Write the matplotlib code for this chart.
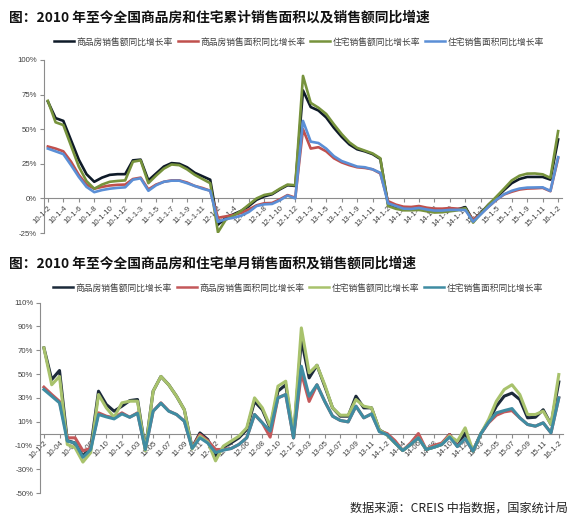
import matplotlib
matplotlib.use("Agg")
import matplotlib.pyplot as plt
from matplotlib.lines import Line2D

plt.rcParams['font.family'] = ['Liberation Sans', 'Noto Sans CJK SC', 'DejaVu Sans']

# ---------------- categories ----------------
years = ['10', '11', '12', '13', '14', '15']
top_cats = []
bot_cats = []
for y in years:
    top_cats += [f'{y}-1-{m}' for m in range(2, 13)]
    bot_cats += [f'{y}-1-2'] + [f'{y}-{m:02d}' for m in range(3, 13)]
top_cats.append('16-1-2')
bot_cats.append('16-1-2')

series_names = ['商品房销售额同比增长率', '商品房销售面积同比增长率',
                '住宅销售额同比增长率', '住宅销售面积同比增长率']

# ---------------- top chart: cumulative YoY (%) ----------------
top_sales = [70, 58, 56, 42, 28, 17.5, 12, 15, 17, 17.5, 17.5,
             27.5, 28, 13, 18, 23, 25.5, 25, 22.5, 18.5, 16, 13.5,
             -19, -14, -11.5, -9, -5.5, -1, 1.5, 3, 6.5, 9.5, 9,
             78, 66, 63.5, 58.5, 51, 44.5, 39, 35.5, 34, 32, 28.5,
             -4, -6.5, -7.8, -8, -7.4, -8.3, -9.3, -9.3, -8.6, -7.9, -6.3,
             -16, -10.5, -4.5, 0.5, 6, 11, 14, 15.5, 15.5, 15.5, 13.6,
             42.6]
top_area = [37.5, 36, 34, 26.5, 17, 10, 7, 8.3, 9.3, 9.8, 10,
            14, 15, 6.5, 10, 12, 13, 13, 11.5, 9, 7.5, 5.5,
            -14, -13, -12, -10.5, -8, -5, -3.5, -3.3, -0.7, 2.4, 0.5,
            50, 36, 37, 34, 29, 26, 24, 22.5, 22, 21, 18,
            -2, -4.5, -6, -6.2, -5.5, -6.7, -7.4, -7.4, -7, -7.4, -7.8,
            -15.5, -11, -6, -1.2, 2.8, 4.8, 6.4, 7.1, 7.3, 7.6, 5.2,
            29]
top_res_sales = [70.5, 55, 53, 38, 23, 12.5, 7, 10, 12, 12.6, 13,
                 26.5, 27.5, 11, 16.5, 21.5, 24.5, 24, 21, 17, 14, 11,
                 -24.5, -15.5, -12.5, -9, -4.5, 0, 2.5, 3.5, 7, 10, 9.5,
                 88.5, 69, 65.5, 61, 53.5, 46.5, 40.5, 36.5, 34.5, 32.5, 29,
                 -5.5, -7.5, -8.6, -8.6, -8.3, -9.3, -10.2, -10, -9.3, -8.6, -7,
                 -17.5, -11, -4.5, 1.2, 7, 13, 16.4, 17.9, 18, 17.4, 14.8,
                 48.6]
top_res_area = [36, 34, 32, 24, 15.5, 8.3, 4.5, 6, 7, 7.6, 8,
                13.5, 14.5, 5.5, 9.5, 12, 12.8, 12.8, 11, 9, 7, 5.5,
                -17, -15, -14, -12.5, -9.8, -5.5, -4.3, -4, -1.4, 2, 0,
                56, 41, 40, 36, 30.5, 27, 25, 23, 22.5, 21, 18.5,
                -3.5, -5.5, -7.4, -7.6, -6.9, -8, -8.8, -8.8, -8.3, -8.3, -8.4,
                -16.8, -11.5, -6, -1, 3, 5.5, 7.1, 7.8, 7.9, 8, 5.4,
                29.8]

# ---------------- bottom chart: single-month YoY (%) ----------------
bot_sales = [72, 45.4, 53, -5.9, -8, -19, -12, 35.6, 24.4, 18.8, 23,
             27.7, 28.6, -13.4, 35.6, 48, 41, 31.4, 20, -12, 0.5, -5,
             -19, -11.5, -7.8, -3.6, 3.4, 27, 20, 4.8, 35.6, 41, -3.6,
             79, 46.8, 57.4, 39.8, 21.6, 14.6, 14.6, 31.4, 21.6, 21.6, 3,
             -0.8, -7.8, -14.3, -9.2, -3.6, -13.4, -11.5, -9.2, -0.8, -10.6, 0.5,
             -14.8, -0.3, 10.4, 23, 31.4, 34, 28.6, 13.2, 13.7, 20, 7.6,
             43.4]
bot_area = [39, 32.8, 27, -3.6, -3.6, -14.5, -12.5, 17.4, 14.6, 13.2, 17.4,
            13.7, 17.4, -13, 18.8, 25.8, 19, 16, 10.4, -12, -0.8, -6,
            -13.4, -13.4, -12.6, -9.2, -3.6, 16, 9, -3, 30, 32.8, -3.6,
            51, 27, 41, 27, 14.6, 11, 9.8, 23, 13.2, 16.5, 2,
            0, -6, -14.3, -8, 0, -13.4, -10, -8, -0.8, -10.6, -4.2,
            -14.8, -0.3, 9, 15.4, 18.2, 19.3, 13.2, 7.6, 6.2, 9, 0.6,
            30]
bot_res_sales = [72, 41, 48, -9.2, -12, -24, -16, 32.8, 21.6, 13.7, 25.8,
                 27.2, 27.2, -14.5, 35.6, 48, 41, 31.4, 20, -13, -2.2, -7,
                 -23, -10.6, -6.4, -2.2, 4.8, 30, 21.6, 6.2, 39.8, 44, -2,
                 88.8, 51, 57.4, 41, 21.6, 15.4, 15.4, 28.6, 23, 21.6, 3,
                 -1.5, -8, -14.3, -9.2, -3.6, -13.4, -11.5, -9.2, -2, -6.4, 4.8,
                 -14.8, -0.3, 11.8, 27.2, 37, 41, 32.8, 16, 16, 18.8, 7.6,
                 49.6]
bot_res_area = [37, 31.4, 25.8, -6.4, -8, -20, -13.5, 16, 14, 12.3, 16.5,
                13.7, 17, -13.4, 18.8, 25.5, 18.8, 16, 10.4, -12.5, -3.6, -8,
                -16, -14, -12.6, -9.2, -3.6, 16, 9, 2, 30, 32.8, -3.6,
                56.6, 31.4, 41, 27, 14.6, 11, 9.8, 23, 13.2, 16.5, 1.5,
                -1, -7.8, -14.3, -9.2, -3.6, -13.4, -11.5, -9.2, -3, -11, -4.2,
                -14.8, -0.3, 9.5, 17.4, 19.3, 21, 13.2, 7.6, 6.2, 9, 0.6,
                30]

top_ticks = [-25, 0, 25, 50, 75, 100]
bot_ticks = [-50, -30, -10, 10, 30, 50, 70, 90, 110]

top_colors = ['#0e1a28', '#c0504d', '#77933c', '#5b8fd6']
bot_colors = ['#1c2a3a', '#c4585a', '#a8c26c', '#3f8ca2']

W, H = 579, 521
fig = plt.figure(figsize=(W / 100, H / 100), dpi=100)

axis_grey = '#8c8c8c'
label_col = '#404040'


def style_axis(ax, yticks, cats, ylo, yhi):
    n = len(cats)
    ax.set_xlim(-0.5, n - 0.5)
    ax.set_ylim(ylo, yhi)
    for s in ['top', 'right']:
        ax.spines[s].set_visible(False)
    ax.spines['bottom'].set_position(('data', 0))
    for s in ['left', 'bottom']:
        ax.spines[s].set_color(axis_grey)
        ax.spines[s].set_linewidth(0.8)
    ax.set_yticks(yticks)
    ax.set_yticklabels([f'{v}%' for v in yticks])
    idx = list(range(0, n, 2))
    ax.set_xticks(idx)
    ax.set_xticklabels([cats[i] for i in idx], rotation=45, ha='right',
                       va='top', rotation_mode='anchor')
    ax.tick_params(axis='both', colors=axis_grey, length=3, width=0.8,
                   labelcolor=label_col, labelsize=5.6)
    ax.tick_params(axis='x', pad=1.5)
    ax.tick_params(axis='y', pad=2)
    ax.patch.set_alpha(0)


# ---------- top ----------
ax1 = fig.add_axes([44 / W, (H - 233) / H, 518 / W, 173 / H])
x1 = list(range(len(top_cats)))
for vals, c in zip([top_sales, top_area, top_res_sales, top_res_area], top_colors):
    ax1.plot(x1, vals, color=c, lw=1.9, solid_joinstyle='round', zorder=3)
style_axis(ax1, top_ticks, top_cats, -25, 100)

# ---------- bottom ----------
ax2 = fig.add_axes([40 / W, 28 / H, 522.7 / W, 190.3 / H])
x2 = list(range(len(bot_cats)))
for vals, c in zip([bot_sales, bot_area, bot_res_sales, bot_res_area], bot_colors):
    ax2.plot(x2, vals, color=c, lw=2.2, solid_joinstyle='round', zorder=3)
style_axis(ax2, bot_ticks, bot_cats, -50, 110)

# ---------- titles ----------
cjk = ['Noto Sans CJK SC', 'DejaVu Sans']
fig.text(9 / W, 1 - 18 / H, '图：2010 年至今全国商品房和住宅累计销售面积以及销售额同比增速',
         family=cjk, fontsize=9.9, weight='bold', va='center', ha='left', color='#111111')
fig.text(9 / W, 1 - 264 / H, '图：2010 年至今全国商品房和住宅单月销售面积及销售额同比增速',
         family=cjk, fontsize=9.9, weight='bold', va='center', ha='left', color='#111111')


# ---------- legends ----------
def make_legend(colors, cx, cy, lw):
    handles = [Line2D([0], [0], color=c, lw=lw) for c in colors]
    leg = fig.legend(handles, series_names, loc='center', bbox_to_anchor=(cx / W, 1 - cy / H),
                     ncol=4, frameon=False, handlelength=2.3, handletextpad=0.3,
                     columnspacing=0.55, prop={'family': cjk, 'size': 6.3})
    for t in leg.get_texts():
        t.set_color('#404040')
    return leg


make_legend(top_colors, 299, 42, 1.8)
make_legend(bot_colors, 298, 288, 1.8)

# ---------- source ----------
fig.text(568 / W, 1 - 508 / H, '数据来源：CREIS 中指数据，国家统计局', family=cjk,
         fontsize=8.7, ha='right', va='center', color='#222222')

fig.savefig('out.png', dpi=100)
